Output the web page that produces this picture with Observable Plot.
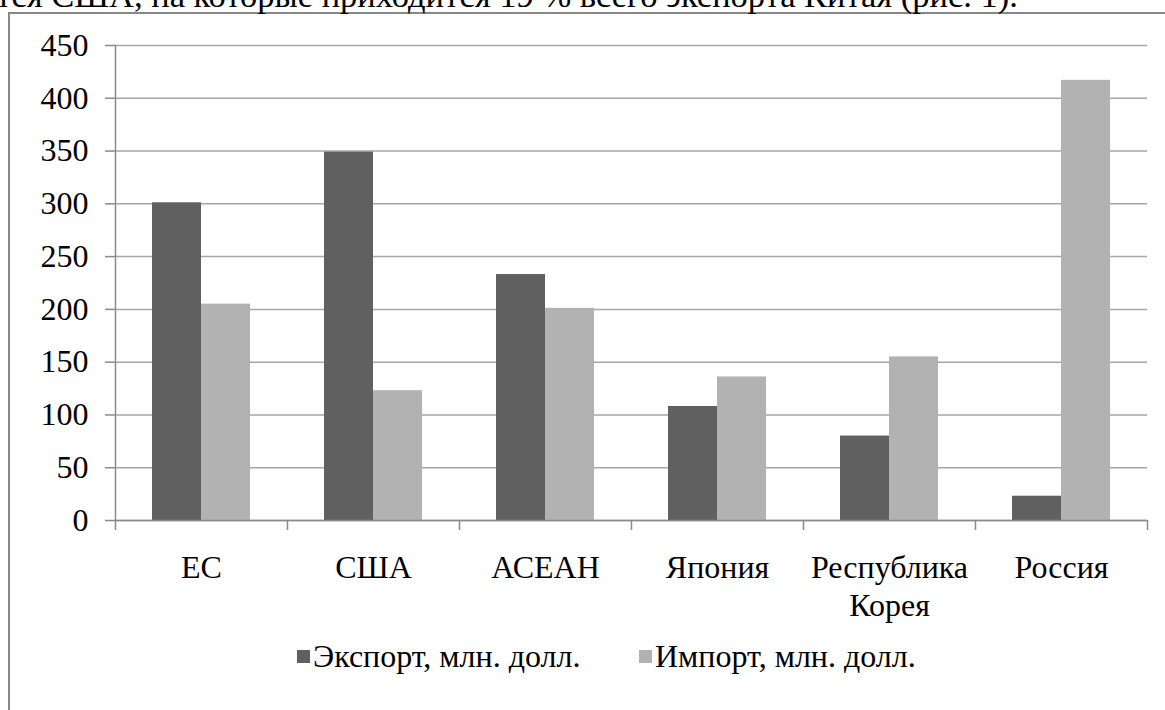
<!DOCTYPE html>
<html>
<head>
<meta charset="utf-8">
<script src="https://cdn.jsdelivr.net/npm/d3@7"></script>
<script src="https://cdn.jsdelivr.net/npm/@observablehq/plot@0.6"></script>
<style>
  html, body { margin: 0; padding: 0; background: #fff; }
  #wrap { position: relative; width: 1165px; height: 710px; overflow: hidden; font-family: 'Liberation Serif', serif; }
  #lead { position: absolute; right: 147px; top: -22px; font-size: 34.5px; line-height: 34.5px; white-space: nowrap; color: #000; }
  #border { position: absolute; left: 8px; top: 12px; width: 1200px; height: 800px; border-top: 2px solid #878787; border-left: 2px solid #878787; }
  #chart { position: absolute; left: 0; top: 0; }
  #legend { position: absolute; left: 0; top: 630px; width: 1165px; height: 80px; font-size: 32px; color: #000; font-family: 'Liberation Serif', serif; }
  .item { position: absolute; top: 8px; display: flex; align-items: center; white-space: nowrap; }
  .sw { width: 13px; height: 13px; margin-right: 3px; }
</style>
</head>
<body>
<div id="wrap">
  <div id="border"></div>
  <div id="lead">тся США, на которые приходится 19 % всего экспорта Китая (рис. 1).</div>
  <div id="chart"></div>
  <div id="legend"></div>
</div>
<script>
const categories = ["ЕС", "США", "АСЕАН", "Япония", "Республика\nКорея", "Россия"];
const exportValues = [301, 349, 233, 108, 80, 23];
const importValues = [205, 123, 201, 136, 155, 417];
const seriesNames = ["Экспорт, млн. долл.", "Импорт, млн. долл."];
const seriesColors = ["#606060", "#b2b2b2"];
const yTicks = [0, 50, 100, 150, 200, 250, 300, 350, 400, 450];

const data = categories.flatMap((c, i) => [
  {cat: c, series: seriesNames[0], value: exportValues[i]},
  {cat: c, series: seriesNames[1], value: importValues[i]}
]);

const W = 1165, H = 630, mL = 115, mR = 18, mT = 45, mB = 110;
const step = (W - mL - mR) / categories.length;
const axisGray = "#8a8a8a";

const chart = Plot.plot({
  width: W, height: H,
  marginLeft: mL, marginRight: mR, marginTop: mT, marginBottom: mB,
  style: "font-family: 'Liberation Serif', serif; font-size: 32px; color: #000; background: transparent; overflow: visible;",
  fx: {domain: categories, padding: 0, label: null, axis: null},
  x: {domain: seriesNames, paddingInner: 0, paddingOuter: 0.755, axis: null},
  y: {domain: [0, 450], label: null},
  color: {domain: seriesNames, range: seriesColors},
  marks: [
    Plot.gridY(yTicks, {stroke: "#a6a6a6", strokeOpacity: 1, strokeWidth: 1.5}),
    Plot.barY(data, {fx: "cat", x: "series", y: "value", fill: "series"}),
    Plot.ruleY([0], {stroke: axisGray, strokeWidth: 1.5}),
    Plot.frame({anchor: "left", facetAnchor: "left", stroke: axisGray, strokeWidth: 1.5}),
    Plot.axisY(yTicks, {tickSize: 10, tickPadding: 17, stroke: axisGray, strokeWidth: 1.5, fill: "#000", label: null, fontSize: 32}),
    Plot.axisFx({anchor: "bottom", tickSize: 0, tickPadding: 30, lineHeight: 1.2, label: null, fontSize: 32, fill: "#000"}),
    Plot.axisFx({anchor: "bottom", tickSize: 10, tickFormat: () => "", label: null, dx: -step / 2, stroke: axisGray, strokeWidth: 1.5}),
    Plot.axisFx({anchor: "bottom", ticks: categories.slice(-1), tickSize: 10, tickFormat: () => "", label: null, dx: step / 2, stroke: axisGray, strokeWidth: 1.5})
  ]
});
document.getElementById("chart").appendChild(chart);

const legend = document.getElementById("legend");
const lefts = [297, 639];
seriesNames.forEach((s, i) => {
  const it = document.createElement("div");
  it.className = "item";
  it.style.left = lefts[i] + "px";
  const sw = document.createElement("span");
  sw.className = "sw";
  sw.style.background = seriesColors[i];
  const tx = document.createElement("span");
  tx.textContent = s;
  it.appendChild(sw);
  it.appendChild(tx);
  legend.appendChild(it);
});
</script>
</body>
</html>
